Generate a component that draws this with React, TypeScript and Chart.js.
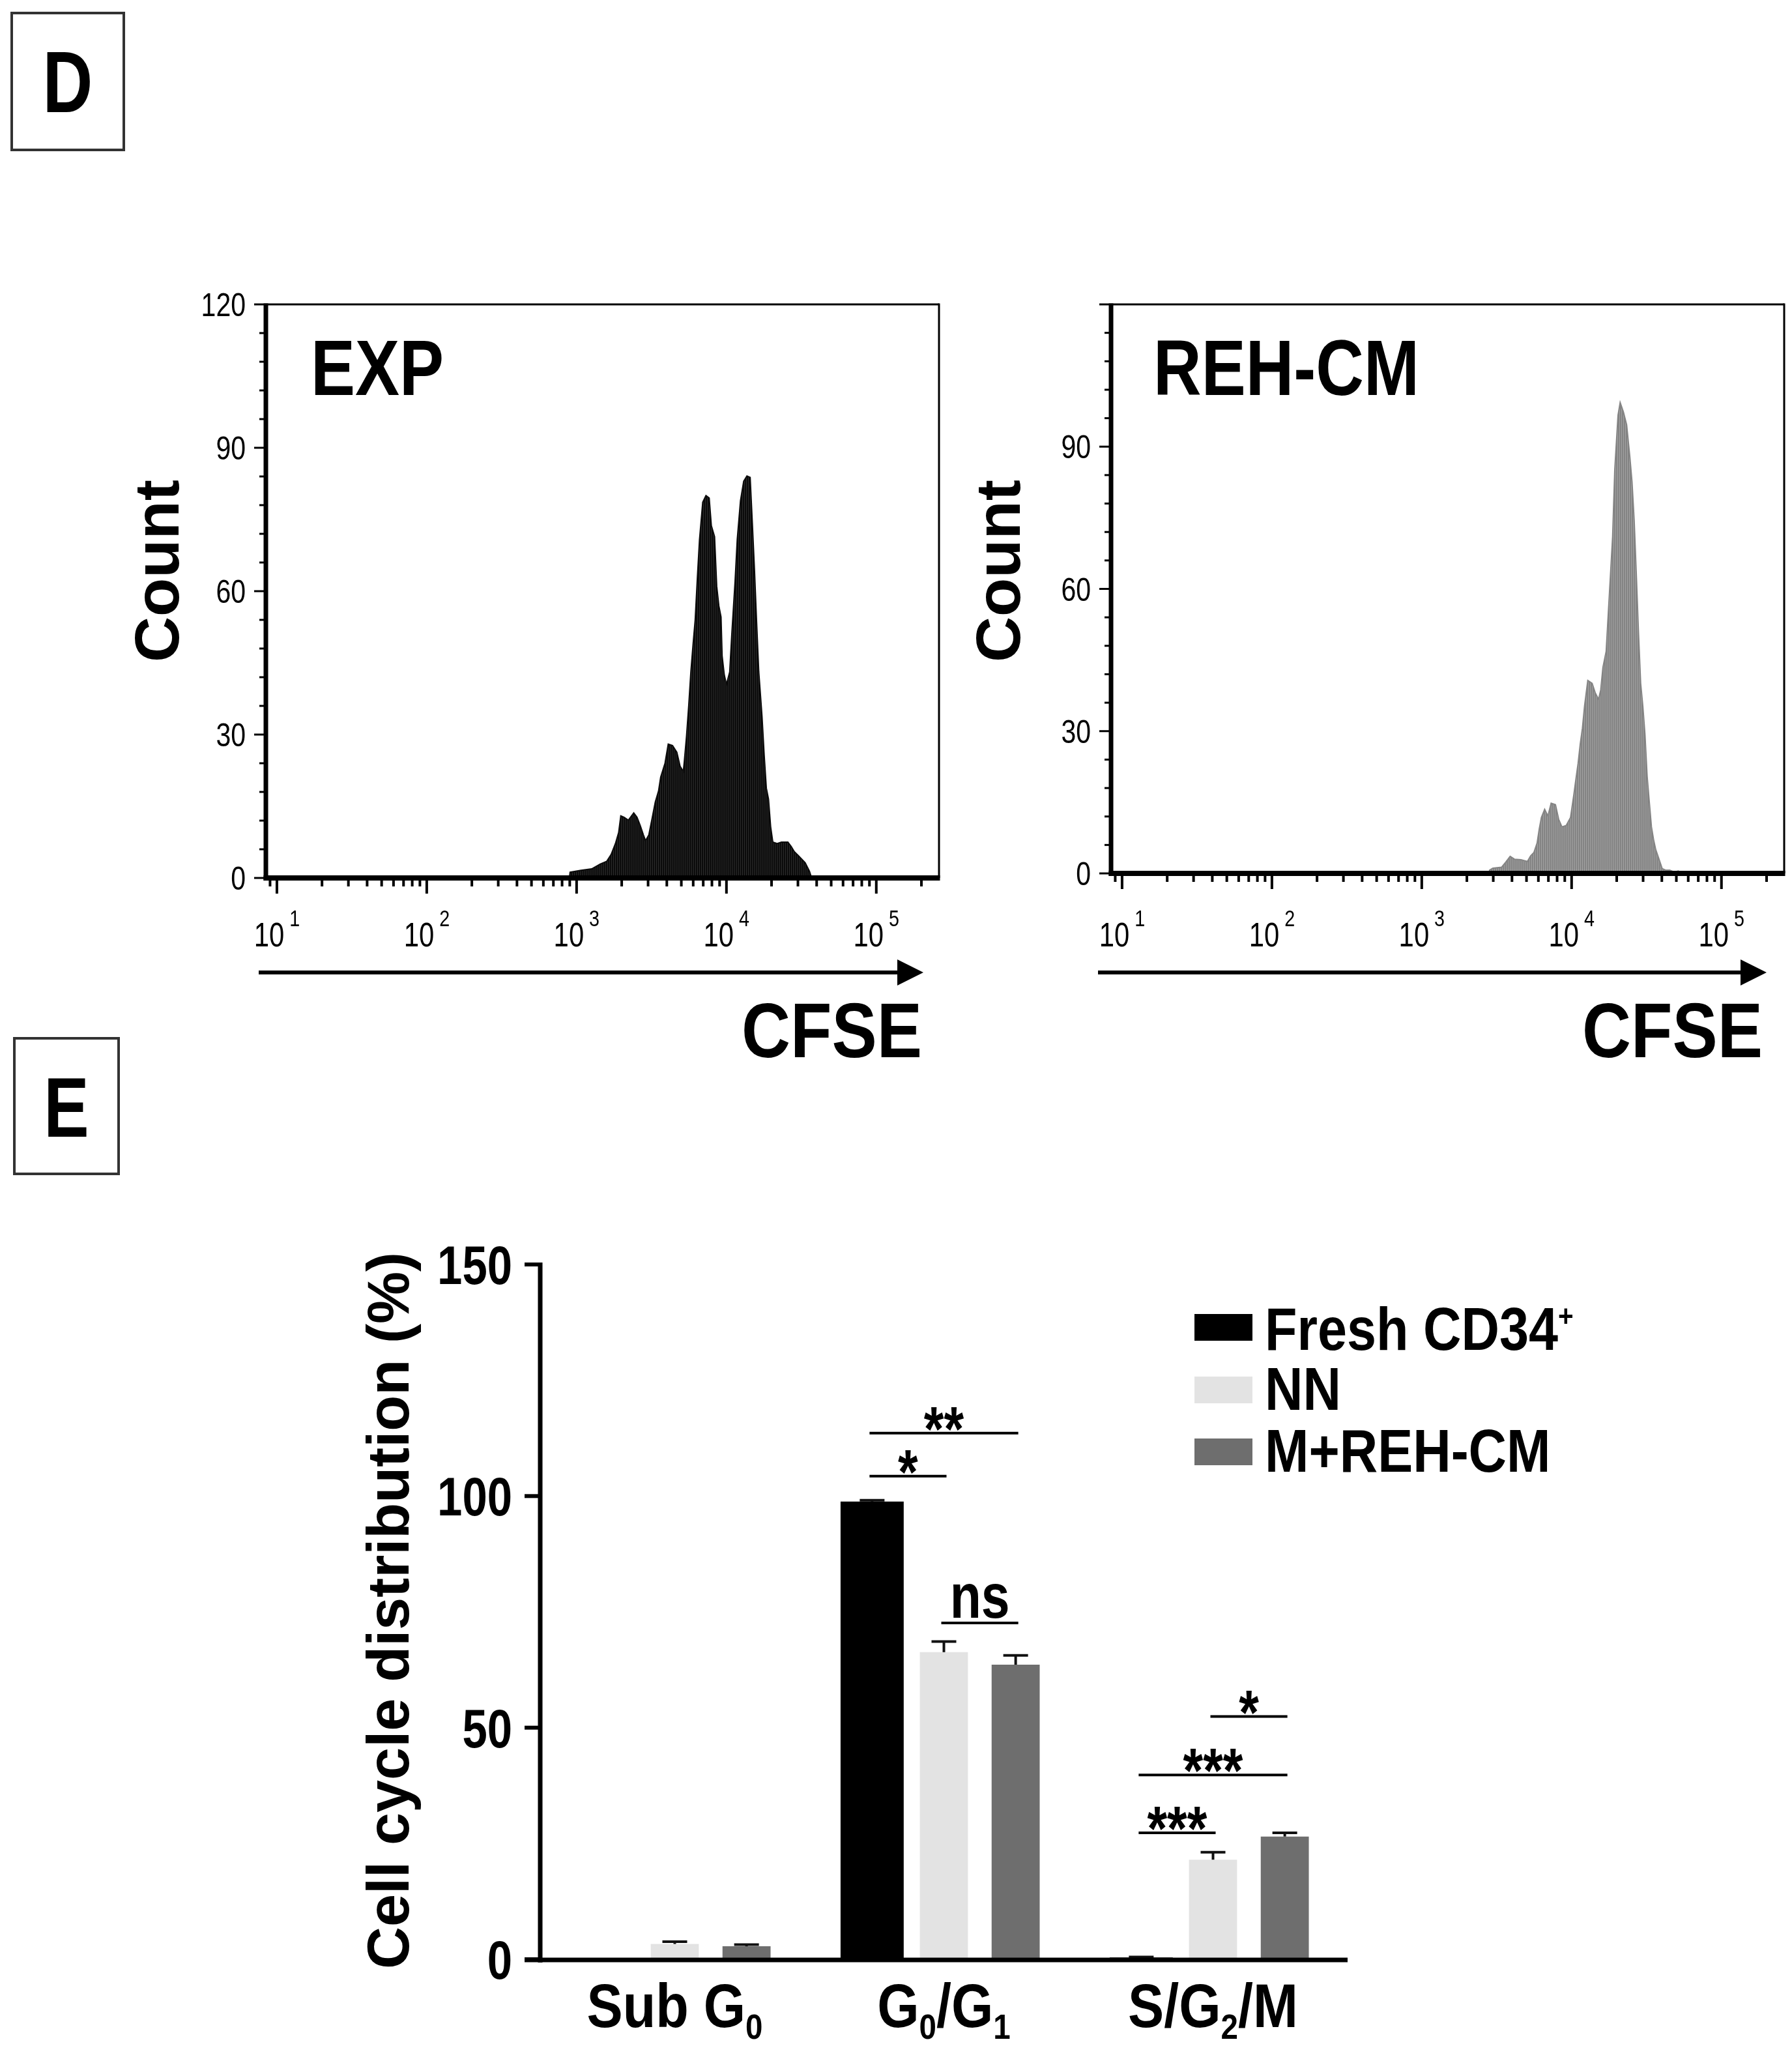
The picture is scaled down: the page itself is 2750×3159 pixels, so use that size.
import React, { useEffect, useRef } from "react";
import { Chart, registerables } from "chart.js";

Chart.register(...registerables);

const FONT = '"Liberation Sans", Arial, Helvetica, sans-serif';

// ---------- Panel D : CFSE histograms ----------
const expCfse = [895, 905, 1069, 1261, 1439, 1590, 1699, 1816, 1908, 1972, 2073, 2215, 2406, 2529, 2657, 2793, 2887, 3034, 3188, 3350, 3522, 3640, 3890, 4088, 4368, 4667, 4905, 5154, 5241, 5418, 5601, 5787, 5984, 6184, 6392, 6609, 6945, 7301, 7673, 7932, 8334, 8614, 8904, 9204, 9358, 9674, 10000, 10510, 10864, 11418, 11802, 12404, 13032, 13700, 14400, 14887, 15388, 15903, 16439, 17276, 17863, 18465, 19087, 19730, 20393, 21790, 23275, 25710, 27020, 28400, 30340, 33510, 35810, 37010];
const expCount = [0, 1.2, 1.6, 1.9, 2.9, 3.5, 4.9, 7.2, 9.5, 13.0, 12.7, 12.1, 13.6, 12.7, 11.0, 9.0, 7.8, 9.0, 12.4, 15.9, 18.2, 21.1, 24.0, 28.0, 27.7, 26.3, 23.4, 22.3, 24.6, 29.8, 36.1, 43.1, 48.8, 54.0, 62.7, 70.8, 78.6, 80.0, 79.5, 73.7, 71.4, 61.0, 56.9, 54.6, 46.5, 42.5, 40.5, 43.1, 51.2, 62.1, 70.8, 78.9, 83.0, 84.1, 83.8, 74.3, 64.5, 53.5, 43.1, 33.8, 25.7, 18.8, 16.5, 10.7, 7.5, 7.2, 7.5, 7.5, 6.6, 5.5, 4.6, 3.2, 1.4, 0];

const rehCfse = [2800, 2838, 2982, 3405, 3638, 3888, 4154, 4588, 5070, 5327, 5600, 5885, 6083, 6288, 6609, 6945, 7301, 7800, 8198, 8616, 9204, 9836, 10337, 10686, 11046, 11418, 11803, 12200, 12823, 13704, 14403, 15136, 15646, 16174, 16999, 17572, 18164, 18776, 19410, 20402, 21086, 22161, 23291, 24480, 25305, 26158, 27040, 27950, 28893, 29866, 30873, 31915, 32990, 34104, 35253, 36439, 38299, 40252, 42305, 45198, 48300, 51600, 53360];
const rehCount = [0, 0.7, 1.1, 1.3, 2.4, 3.6, 3.0, 2.9, 2.5, 3.7, 4.4, 6.4, 9.4, 11.8, 13.5, 12.1, 14.8, 14.5, 11.4, 9.8, 10.1, 11.8, 16.5, 19.9, 23.2, 27.3, 30.6, 35.3, 40.7, 40.1, 38.0, 36.7, 38.7, 43.4, 46.8, 54.9, 62.9, 71.0, 85.2, 96.6, 99.3, 97.3, 94.6, 87.8, 82.5, 74.4, 62.9, 50.8, 40.1, 35.3, 29.3, 20.5, 15.1, 9.8, 7.1, 5.0, 3.0, 1.0, 0.7, 0.7, 0.3, 0.5, 0];

const countTicks = [0, 30, 60, 90, 120];
const decadeTicks = [10, 100, 1000, 10000, 100000];
const cfseMin = 8.44;
const cfseMax = 262144;

// ---------- Panel E : cell cycle bars ----------
const cycleCategories = ["Sub G0", "G0/G1", "S/G2/M"];
const seriesNames = ["Fresh CD34+", "NN", "M+REH-CM"];
const freshValues = [0, 98.8, 0.4];
const freshErrors = [0, 0.3, 0.1];
const nnValues = [3.3, 66.3, 21.5];
const nnErrors = [0.5, 2.3, 1.6];
const mrehValues = [2.8, 63.6, 26.5];
const mrehErrors = [0.35, 2.0, 0.8];
const percentTicks = [0, 50, 100, 150];

// significance brackets
const sigCategory = [1, 1, 1, 2, 2, 2];
const sigFrom = [0, 0, 1, 1, 0, 0];
const sigTo = [1, 2, 2, 2, 2, 1];
const sigLevel = [104.3, 113.6, 72.6, 52.4, 39.8, 27.3];
const sigLabel = ["*", "**", "ns", "*", "***", "***"];

const barColors = ["#000000", "#e3e3e3", "#6e6e6e"];

// ---------- drawing helpers ----------
type Seg = { t: string; size: number; dy?: number };

function drawRuns(
  ctx: CanvasRenderingContext2D,
  segs: Seg[],
  x: number,
  y: number,
  align: "left" | "center" | "right",
  bold: boolean,
  sx: number
) {
  ctx.save();
  ctx.textAlign = "left";
  ctx.textBaseline = "alphabetic";
  ctx.fillStyle = "#000";
  const widths = segs.map((s) => {
    ctx.font = `${bold ? "bold " : ""}${s.size}px ${FONT}`;
    return ctx.measureText(s.t).width * sx;
  });
  const total = widths.reduce((a, b) => a + b, 0);
  let cx = align === "left" ? x : align === "center" ? x - total / 2 : x - total;
  segs.forEach((s, i) => {
    ctx.font = `${bold ? "bold " : ""}${s.size}px ${FONT}`;
    ctx.save();
    ctx.translate(cx, y + (s.dy || 0));
    ctx.scale(sx, 1);
    ctx.fillText(s.t, 0, 0);
    ctx.restore();
    cx += widths[i];
  });
  ctx.restore();
}

function drawRotated(ctx: CanvasRenderingContext2D, text: string, bx: number, cy: number, size: number) {
  ctx.save();
  ctx.translate(bx, cy);
  ctx.rotate(-Math.PI / 2);
  ctx.font = `bold ${size}px ${FONT}`;
  ctx.textAlign = "center";
  ctx.textBaseline = "alphabetic";
  ctx.fillStyle = "#000";
  ctx.fillText(text, 0, 0);
  ctx.restore();
}

function seg(ctx: CanvasRenderingContext2D, x1: number, y1: number, x2: number, y2: number, w: number, color = "#000") {
  ctx.save();
  ctx.beginPath();
  ctx.moveTo(x1, y1);
  ctx.lineTo(x2, y2);
  ctx.lineWidth = w;
  ctx.strokeStyle = color;
  ctx.lineCap = "butt";
  ctx.stroke();
  ctx.restore();
}

function arrow(ctx: CanvasRenderingContext2D, x1: number, x2: number, y: number) {
  seg(ctx, x1, y, x2 - 30, y, 6);
  ctx.save();
  ctx.beginPath();
  ctx.moveTo(x2 - 40, y - 20);
  ctx.lineTo(x2, y);
  ctx.lineTo(x2 - 40, y + 20);
  ctx.closePath();
  ctx.fillStyle = "#000";
  ctx.fill();
  ctx.restore();
}

function panelBox(ctx: CanvasRenderingContext2D, x1: number, y1: number, x2: number, y2: number, letter: string, size: number, baseline: number) {
  ctx.save();
  ctx.lineWidth = 4;
  ctx.strokeStyle = "#333";
  ctx.strokeRect(x1 + 2, y1 + 2, x2 - x1 - 4, y2 - y1 - 4);
  ctx.restore();
  drawRuns(ctx, [{ t: letter, size }], (x1 + x2) / 2, baseline, "center", true, 0.8);
}

function stripes(base: string, light: string): CanvasPattern | string {
  const c = document.createElement("canvas");
  c.width = 3;
  c.height = 4;
  const g = c.getContext("2d");
  if (!g) return base;
  g.fillStyle = base;
  g.fillRect(0, 0, 3, 4);
  g.fillStyle = light;
  g.fillRect(2, 0, 1, 4);
  return g.createPattern(c, "repeat") || base;
}

type HistOpts = {
  ox: number;
  oy: number;
  title: string;
  titleX: number;
  countBaseX: number;
  arrowX1: number;
  arrowX2: number;
  cfseRight: number;
  labelTop: boolean;
  panel: boolean;
};

function histPlugin(o: HistOpts) {
  return {
    id: "histDecor",
    afterDraw(chart: any) {
      const ctx: CanvasRenderingContext2D = chart.ctx;
      const { left, right, top, bottom } = chart.chartArea;
      const xs = chart.scales.x;
      const ys = chart.scales.y;
      const Y = (py: number) => py - o.oy;
      const X = (px: number) => px - o.ox;
      // frame
      seg(ctx, left, top, right, top, 3);
      seg(ctx, right, top - 1.5, right, bottom, 3);
      seg(ctx, left, top - 1.5, left, bottom + 4, 7);
      seg(ctx, left - 3.5, bottom, right + 1.5, bottom, 8);
      // y ticks
      for (let v = 0; v <= 120; v += 6) {
        const py = ys.getPixelForValue(v);
        const major = v % 30 === 0;
        seg(ctx, left - (major ? 18 : 10), py, left, py, 3);
      }
      countTicks.forEach((v) => {
        if (v === 120 && !o.labelTop) return;
        const py = ys.getPixelForValue(v);
        drawRuns(ctx, [{ t: String(v), size: 50 }], left - 31, py + 18, "right", false, 0.82);
      });
      // x ticks (log)
      for (let n = 0; n <= 5; n++) {
        for (let m = 1; m <= 9; m++) {
          const v = m * Math.pow(10, n);
          if (v < cfseMin || v > cfseMax) continue;
          const px = xs.getPixelForValue(v);
          seg(ctx, px, bottom, px, bottom + (m === 1 ? 24 : 13), 4);
        }
      }
      decadeTicks.forEach((v) => {
        const px = xs.getPixelForValue(v);
        const e = Math.round(Math.log10(v));
        drawRuns(ctx, [{ t: "10", size: 51 }, { t: " " + String(e), size: 35, dy: -31 }], px, Y(1452), "center", false, 0.82);
      });
      // title inside plot
      drawRuns(ctx, [{ t: o.title, size: 120 }], X(o.titleX), Y(606), "left", true, 0.85);
      // Count
      drawRotated(ctx, "Count", X(o.countBaseX), Y(876), 97);
      // arrow + CFSE
      arrow(ctx, X(o.arrowX1), X(o.arrowX2), Y(1492));
      drawRuns(ctx, [{ t: "CFSE", size: 118 }], X(o.cfseRight), Y(1622), "right", true, 0.88);
      if (o.panel) panelBox(ctx, X(16), Y(18), X(192), Y(232), "D", 133, Y(172));
    },
  };
}

function histConfig(xsData: number[], ysData: number[], color: string, fill: any, pad: any, plugin: any) {
  return {
    type: "line",
    data: {
      datasets: [
        {
          data: xsData.map((x, i) => ({ x, y: ysData[i] })),
          borderColor: color,
          backgroundColor: fill,
          borderWidth: 2,
          pointRadius: 0,
          fill: "origin",
          tension: 0,
        },
      ],
    },
    options: {
      animation: false,
      responsive: false,
      devicePixelRatio: 1,
      events: [],
      layout: { padding: pad },
      plugins: { legend: { display: false }, tooltip: { enabled: false } },
      scales: {
        x: { type: "logarithmic", min: cfseMin, max: cfseMax, display: false },
        y: { type: "linear", min: 0, max: 120, display: false },
      },
    },
    plugins: [plugin],
  } as any;
}

function labelSegs(text: string, size: number, sub: number): Seg[] {
  const parts = text.split(/(?<=G)(\d)/);
  const out: Seg[] = [];
  parts.forEach((p, i) => {
    if (!p) return;
    if (i % 2 === 1) out.push({ t: p, size: sub, dy: 18 });
    else out.push({ t: p, size });
  });
  return out;
}

const OY_E = 1560;

const barPlugin = {
  id: "barDecor",
  afterDraw(chart: any) {
    const ctx: CanvasRenderingContext2D = chart.ctx;
    const { left, right, top, bottom } = chart.chartArea;
    const xs = chart.scales.x;
    const ys = chart.scales.y;
    const Y = (py: number) => py - OY_E;
    const errs = [freshErrors, nnErrors, mrehErrors];
    const vals = [freshValues, nnValues, mrehValues];
    // error bars
    errs.forEach((e, di) => {
      const meta = chart.getDatasetMeta(di);
      meta.data.forEach((el: any, j: number) => {
        if (!e[j]) return;
        const y0 = ys.getPixelForValue(vals[di][j]);
        const y1 = ys.getPixelForValue(vals[di][j] + e[j]);
        seg(ctx, el.x, y0, el.x, y1, 4, "#111");
        seg(ctx, el.x - 19, y1, el.x + 19, y1, 4, "#111");
      });
    });
    // axes
    seg(ctx, left, top - 3, left, bottom + 5, 7);
    seg(ctx, left - 24, bottom + 1, right, bottom + 1, 7);
    percentTicks.forEach((v) => {
      const py = ys.getPixelForValue(v);
      seg(ctx, left - 24, py, left, py, 6);
      drawRuns(ctx, [{ t: String(v), size: 84 }], left - 43, py + 30, "right", true, 0.82);
    });
    cycleCategories.forEach((c, i) => {
      const px = xs.getPixelForValue(i);
      drawRuns(ctx, labelSegs(c, 94, 54), px, Y(3110), "center", true, 0.88);
    });
    drawRotated(ctx, "Cell cycle distribution (%)", 627, Y(2471), 90);
    // significance
    sigLabel.forEach((lab, k) => {
      const a = chart.getDatasetMeta(sigFrom[k]).data[sigCategory[k]].x;
      const b = chart.getDatasetMeta(sigTo[k]).data[sigCategory[k]].x;
      const py = ys.getPixelForValue(sigLevel[k]);
      seg(ctx, a - 4, py, b + 4, py, 4);
      const mid = (a + b) / 2;
      if (lab === "ns") drawRuns(ctx, [{ t: lab, size: 96 }], mid, py - 8, "center", true, 0.82);
      else drawRuns(ctx, [{ t: lab, size: 96 }], mid, py + 26, "center", true, 0.82);
    });
    // legend
    const rowsTop = [2016, 2112, 2207];
    const rowsBase = [2071, 2163, 2258];
    seriesNames.forEach((name, i) => {
      ctx.save();
      ctx.fillStyle = barColors[i];
      ctx.fillRect(1833, Y(rowsTop[i]), 89, 41);
      ctx.restore();
      const m = name.match(/^(.*?)(\+)$/);
      const segs: Seg[] = m ? [{ t: m[1], size: 92 }, { t: m[2], size: 46, dy: -36 }] : [{ t: name, size: 92 }];
      drawRuns(ctx, segs, 1941, Y(rowsBase[i]), "left", true, 0.88);
    });
    panelBox(ctx, 20, Y(1591), 184, Y(1803), "E", 130, Y(1744));
  },
};

export default function App() {
  const c1 = useRef<HTMLCanvasElement>(null);
  const c2 = useRef<HTMLCanvasElement>(null);
  const c3 = useRef<HTMLCanvasElement>(null);

  useEffect(() => {
    const charts: Chart[] = [];
    if (c1.current) {
      charts.push(
        new Chart(
          c1.current,
          histConfig(
            expCfse,
            expCount,
            "#0c0c0c",
            stripes("#0a0a0a", "#2c2c2c"),
            { left: 408, top: 467, right: 1460 - 1441, bottom: 1700 - 1347 },
            histPlugin({ ox: 0, oy: 0, title: "EXP", titleX: 477, countBaseX: 274, arrowX1: 397, arrowX2: 1417, cfseRight: 1415, labelTop: true, panel: true })
          )
        )
      );
    }
    if (c2.current) {
      charts.push(
        new Chart(
          c2.current,
          histConfig(
            rehCfse,
            rehCount,
            "#858585",
            stripes("#838383", "#a2a2a2"),
            { left: 1705 - 1460, top: 467, right: 1290 - (2738 - 1460), bottom: 1700 - 1340 },
            histPlugin({ ox: 1460, oy: 0, title: "REH-CM", titleX: 1770, countBaseX: 1565, arrowX1: 1685, arrowX2: 2711, cfseRight: 2705, labelTop: false, panel: false })
          )
        )
      );
    }
    if (c3.current) {
      charts.push(
        new Chart(c3.current, {
          type: "bar",
          data: {
            labels: cycleCategories,
            datasets: [
              { label: seriesNames[0], data: freshValues, backgroundColor: barColors[0], barPercentage: 0.88 },
              { label: seriesNames[1], data: nnValues, backgroundColor: barColors[1] },
              { label: seriesNames[2], data: mrehValues, backgroundColor: barColors[2] },
            ],
          },
          options: {
            animation: false,
            responsive: false,
            devicePixelRatio: 1,
            events: [],
            datasets: { bar: { categoryPercentage: 0.8, barPercentage: 0.67, borderWidth: 0 } },
            layout: { padding: { left: 829, right: 2750 - 2068, top: 1940 - OY_E, bottom: 3159 - 3006 } },
            plugins: { legend: { display: false }, tooltip: { enabled: false } },
            scales: {
              x: { type: "category", display: false },
              y: { min: 0, max: 150, display: false },
            },
          },
          plugins: [barPlugin],
        } as any)
      );
    }
    return () => charts.forEach((c) => c.destroy());
  }, []);

  return (
    <div style={{ position: "absolute", left: 0, top: 0, width: 2750, height: 3159, background: "#fff", overflow: "hidden" }}>
      <canvas ref={c1} width={1460} height={1700} style={{ position: "absolute", left: 0, top: 0, width: 1460, height: 1700 }} />
      <canvas ref={c2} width={1290} height={1700} style={{ position: "absolute", left: 1460, top: 0, width: 1290, height: 1700 }} />
      <canvas ref={c3} width={2750} height={1599} style={{ position: "absolute", left: 0, top: OY_E, width: 2750, height: 1599 }} />
    </div>
  );
}
